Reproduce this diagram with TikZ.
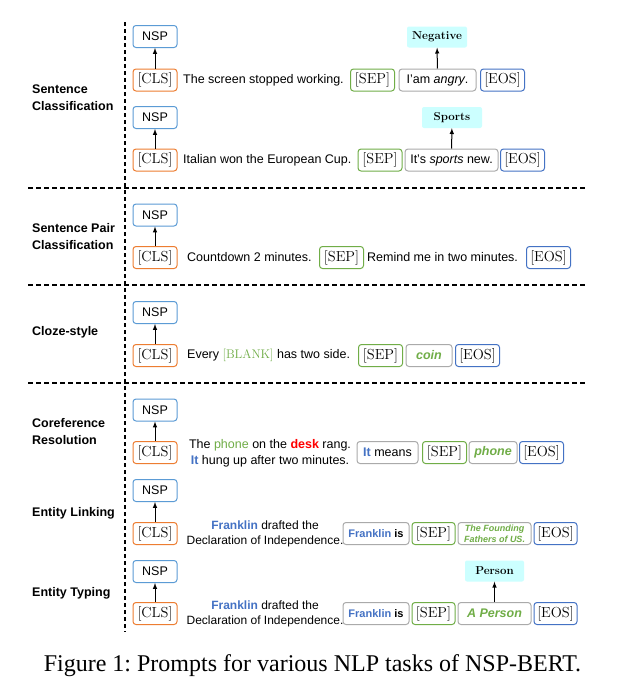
\documentclass[tikz,border=0pt]{standalone}
\usepackage{fontspec}
\setsansfont{Liberation Sans}
\newfontfamily\capfont{Liberation Serif}
\frenchspacing

\definecolor{clsorange}{RGB}{237,125,49}
\definecolor{nspblue}{RGB}{91,155,213}
\definecolor{sepgreen}{RGB}{112,173,71}
\definecolor{eosblue}{RGB}{68,114,196}
\definecolor{boxgray}{RGB}{170,170,170}
\definecolor{labelcyan}{RGB}{204,255,255}
\definecolor{txtgreen}{RGB}{112,173,71}
\definecolor{txtblue}{RGB}{68,114,196}
\definecolor{deskred}{RGB}{255,0,0}

\begin{document}
\begin{tikzpicture}[x=1pt, y=-1pt, >=latex,
    tok/.style={draw, rounded corners=3pt, line width=1pt, minimum width=44pt,
        minimum height=22pt, inner sep=0pt, font=\fontsize{14.5}{15}\selectfont},
    cls/.style={tok, draw=clsorange},
    sepbox/.style={tok, draw=sepgreen},
    eos/.style={tok, draw=eosblue},
    nsp/.style={tok, draw=nspblue, font=\sffamily\fontsize{12.5}{15}\selectfont},
    ans/.style={tok, draw=boxgray, font=\sffamily\fontsize{12.5}{15}\selectfont},
    sent/.style={inner sep=0pt, align=center, font=\sffamily\fontsize{12.5}{16}\selectfont},
    lbl/.style={fill=labelcyan, rounded corners=2pt, minimum width=60pt, minimum height=21pt,
        inner sep=0pt, font=\bfseries\fontsize{11.5}{12}\selectfont},
    task/.style={anchor=west, inner sep=0pt, align=left,
        font=\sffamily\bfseries\fontsize{12.5}{17}\selectfont},
    arr/.style={->, line width=1pt}]

    \useasboundingbox[fill=white] (0,0) rectangle (629,696);

    % separators
    \draw[line width=1.3pt, dash pattern=on 4pt off 3pt] (125,22) -- (125,632);
    \foreach \y in {188,285,383}
    \draw[line width=1.2pt, dash pattern=on 4.5pt off 3.5pt] (28,\y) -- (585,\y);

    % task names
    \node[task] (t1) at (32,98) {Sentence\\Classification};
    \node[task] (t2) at (32,236.5) {Sentence Pair\\Classification};
    \node[task] (t3) at (32,332) {Cloze-style};
    \node[task] (t4) at (32,432) {Coreference\\Resolution};
    \node[task] (t5) at (32,513) {Entity Linking};
    \node[task] (t6) at (32,593) {Entity Typing};

    % NSP heads and CLS tokens
    \foreach \i/\yn/\yc in {1/36.5/80, 2/117.5/160, 3/215/257.5, 4/312.5/355.5,
        5/410/452.5, 6/490.5/533.5, 7/571.5/613.5}
    {
        \node[nsp] (nsp\i) at (155,\yn) {NSP};
        \node[cls] (cls\i) at (155,\yc) {[CLS]};
        \draw[arr] (cls\i) -- (nsp\i);
    }

    % sentence classification
    \node[sent, anchor=west] (s1) at (183,80) {The screen stopped working.};
    \node[sepbox] (sep1) at (372.5,80) {[SEP]};
    \node[ans, minimum width=77pt] (a1) at (437.5,80) {I'am \textit{angry}.};
    \node[eos] (eos1) at (502.5,80) {[EOS]};
    \node[lbl] (neg) at (437,37) {Negative};
    \draw[arr] (a1) -- (neg);

    \node[sent, anchor=west] (s2) at (183,160) {Italian won the European Cup.};
    \node[sepbox] (sep2) at (380,160) {[SEP]};
    \node[ans, minimum width=93pt] (a2) at (451.5,160) {It's \textit{sports} new.};
    \node[eos] (eos2) at (522.5,160) {[EOS]};
    \node[lbl] (sports) at (452,117.5) {Sports};
    \draw[arr] (a2) -- (sports);

    % sentence pair
    \node[sent, anchor=west] (s3) at (187,257.5) {Countdown 2 minutes.};
    \node[sepbox] (sep3) at (341.5,257.5) {[SEP]};
    \node[sent, anchor=west] (s3b) at (367,257.5) {Remind me in two minutes.};
    \node[eos] (eos3) at (548.5,257.5) {[EOS]};

    % cloze
    \node[sent, anchor=west] (s4) at (187,355.5)
        {Every {\rmfamily\color{txtgreen}[BLANK]} has two side.};
    \node[sepbox] (sep4) at (380.5,355.5) {[SEP]};
    \node[ans, minimum width=46pt, text=txtgreen, font=\sffamily\bfseries\itshape\fontsize{12.5}{15}\selectfont]
        (a4) at (429,355.5) {coin};
    \node[eos] (eos4) at (477.5,355.5) {[EOS]};

    % coreference
    \node[sent] (s5) at (270,453) {The \textcolor{txtgreen}{phone} on the
        \textcolor{deskred}{\textbf{desk}} rang.\\\textcolor{txtblue}{\textbf{It}} hung up after two minutes.};
    \node[ans, minimum width=61pt] (a5) at (387.5,452.5) {\textcolor{txtblue}{\textbf{It}} means};
    \node[sepbox] (sep5) at (444.5,452.5) {[SEP]};
    \node[ans, minimum width=48pt, text=txtgreen, font=\sffamily\bfseries\itshape\fontsize{12.5}{15}\selectfont]
        (a5b) at (493,452.5) {phone};
    \node[eos] (eos5) at (541.5,452.5) {[EOS]};

    % entity linking
    \node[sent, font=\sffamily\fontsize{12}{15}\selectfont] (s6) at (265,533.5)
        {\textcolor{txtblue}{\textbf{Franklin}} drafted the\\Declaration of Independence.};
    \node[ans, minimum width=66pt, font=\sffamily\bfseries\fontsize{11}{13}\selectfont]
        (a6) at (376,533.5) {\textcolor{txtblue}{Franklin} is};
    \node[sepbox, minimum width=43pt] (sep6) at (433.5,533.5) {[SEP]};
    \node[ans, minimum width=73pt, align=center, text=txtgreen,
        font=\sffamily\bfseries\itshape\fontsize{9}{11}\selectfont]
        (a6b) at (494.5,533.5) {The Founding\\Fathers of US.};
    \node[eos, minimum width=43pt] (eos6) at (555.5,533.5) {[EOS]};

    % entity typing
    \node[sent, font=\sffamily\fontsize{12}{15}\selectfont] (s7) at (265,613.5)
        {\textcolor{txtblue}{\textbf{Franklin}} drafted the\\Declaration of Independence.};
    \node[ans, minimum width=66pt, font=\sffamily\bfseries\fontsize{11}{13}\selectfont]
        (a7) at (376,613.5) {\textcolor{txtblue}{Franklin} is};
    \node[sepbox, minimum width=43pt] (sep7) at (433.5,613.5) {[SEP]};
    \node[ans, minimum width=73pt, text=txtgreen,
        font=\sffamily\bfseries\itshape\fontsize{12.5}{15}\selectfont]
        (a7b) at (494.5,613.5) {A Person};
    \node[eos, minimum width=43pt] (eos7) at (555.5,613.5) {[EOS]};
    \node[lbl, minimum width=59pt] (person) at (494.5,571) {Person};
    \draw[arr] (a7b) -- (person);

    \node[anchor=base, inner sep=0pt, font=\capfont\fontsize{24}{28}\selectfont]
        (caption) at (312.5,671) {Figure 1: Prompts for various NLP tasks of NSP-BERT.};

\end{tikzpicture}
\end{document}
